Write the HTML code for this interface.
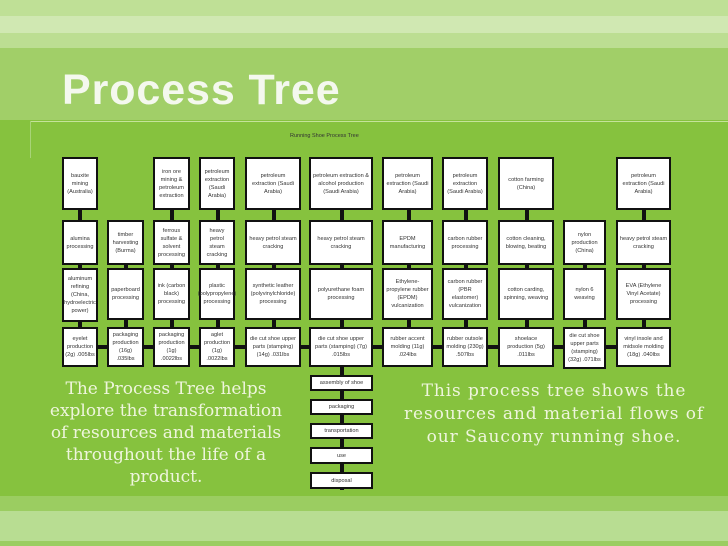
<!DOCTYPE html>
<html><head><meta charset="utf-8"><style>
*{margin:0;padding:0;box-sizing:border-box}
body{width:728px;height:546px;overflow:hidden;position:relative;background:#86c23e;font-family:"Liberation Sans",sans-serif}
.s{position:absolute;left:0;width:728px}
.b{position:absolute;background:#fff;border:2px solid #111;display:flex;align-items:center;justify-content:center;text-align:center;font-size:5.6px;line-height:8px;color:#333;padding:1px}
.v{position:absolute;width:4px;background:#111}
.h{position:absolute;height:4px;background:#111}
.t{position:absolute;font-family:"DejaVu Serif",serif;color:#eef5dc;font-size:17px;line-height:22px;text-align:center;white-space:nowrap}
</style></head><body>
<div class="s" style="top:0;height:16px;background:#bfe096"></div>
<div class="s" style="top:16px;height:17px;background:#d0e8b2"></div>
<div class="s" style="top:33px;height:15px;background:#bcde92"></div>
<div class="s" style="top:48px;height:72px;background:#a1cf68"></div>
<div style="position:absolute;left:62px;top:66px;font-size:43px;font-weight:bold;color:#f4f8ee;letter-spacing:0.9px">Process Tree</div>
<div style="position:absolute;left:30px;top:121px;width:698px;height:1px;background:#c5e39a"></div>
<div style="position:absolute;left:30px;top:121px;width:1px;height:37px;background:#a8d477"></div>
<div style="position:absolute;left:290px;top:133px;font-size:5.5px;color:#333">Running Shoe Process Tree</div>
<div class="s" style="top:496px;height:15px;background:#9bcd61"></div>
<div class="s" style="top:511px;height:30px;background:#b8dd92"></div>
<div class="s" style="top:541px;height:5px;background:#9bcd61"></div>

<div class="h" style="left:78px;top:345px;width:560px"></div>
<div class="v" style="left:78px;top:205px;height:125px"></div>
<div class="v" style="left:124px;top:260px;height:70px"></div>
<div class="v" style="left:170px;top:205px;height:125px"></div>
<div class="v" style="left:216px;top:205px;height:125px"></div>
<div class="v" style="left:272px;top:205px;height:125px"></div>
<div class="v" style="left:340px;top:205px;height:285px"></div>
<div class="v" style="left:407px;top:205px;height:125px"></div>
<div class="v" style="left:464px;top:205px;height:125px"></div>
<div class="v" style="left:525px;top:205px;height:125px"></div>
<div class="v" style="left:583px;top:260px;height:70px"></div>
<div class="v" style="left:642px;top:205px;height:125px"></div>

<div class="b" style="left:62px;top:157px;width:36px;height:53px">bauxite mining (Australia)</div>
<div class="b" style="left:153px;top:157px;width:37px;height:53px">iron ore mining &amp; petroleum extraction</div>
<div class="b" style="left:199px;top:157px;width:36px;height:53px">petroleum extraction (Saudi Arabia)</div>
<div class="b" style="left:245px;top:157px;width:56px;height:53px">petroleum extraction (Saudi Arabia)</div>
<div class="b" style="left:309px;top:157px;width:64px;height:53px">petroleum extraction &amp; alcohol production (Saudi Arabia)</div>
<div class="b" style="left:382px;top:157px;width:51px;height:53px">petroleum extraction (Saudi Arabia)</div>
<div class="b" style="left:442px;top:157px;width:46px;height:53px">petroleum extraction (Saudi Arabia)</div>
<div class="b" style="left:498px;top:157px;width:56px;height:53px">cotton farming (China)</div>
<div class="b" style="left:616px;top:157px;width:55px;height:53px">petroleum extraction (Saudi Arabia)</div>
<div class="b" style="left:62px;top:220px;width:36px;height:45px">alumina processing</div>
<div class="b" style="left:107px;top:220px;width:37px;height:45px">timber harvesting (Burma)</div>
<div class="b" style="left:153px;top:220px;width:37px;height:45px">ferrous sulfate &amp; solvent processing</div>
<div class="b" style="left:199px;top:220px;width:36px;height:45px">heavy petrol steam cracking</div>
<div class="b" style="left:245px;top:220px;width:56px;height:45px">heavy petrol steam cracking</div>
<div class="b" style="left:309px;top:220px;width:64px;height:45px">heavy petrol steam cracking</div>
<div class="b" style="left:382px;top:220px;width:51px;height:45px">EPDM manufacturing</div>
<div class="b" style="left:442px;top:220px;width:46px;height:45px">carbon rubber processing</div>
<div class="b" style="left:498px;top:220px;width:56px;height:45px">cotton cleaning, blowing, beating</div>
<div class="b" style="left:563px;top:220px;width:43px;height:45px">nylon production (China)</div>
<div class="b" style="left:616px;top:220px;width:55px;height:45px">heavy petrol steam cracking</div>
<div class="b" style="left:62px;top:268px;width:36px;height:54px">aluminum refining (China, hydroelectric power)</div>
<div class="b" style="left:107px;top:268px;width:37px;height:52px">paperboard processing</div>
<div class="b" style="left:153px;top:268px;width:37px;height:52px">ink (carbon black) processing</div>
<div class="b" style="left:199px;top:268px;width:36px;height:52px">plastic (polypropylene) processing</div>
<div class="b" style="left:245px;top:268px;width:56px;height:52px">synthetic leather (polyvinylchloride) processing</div>
<div class="b" style="left:309px;top:268px;width:64px;height:52px">polyurethane foam processing</div>
<div class="b" style="left:382px;top:268px;width:51px;height:52px">Ethylene-propylene rubber (EPDM) vulcanization</div>
<div class="b" style="left:442px;top:268px;width:46px;height:52px">carbon rubber (PBR elastomer) vulcanization</div>
<div class="b" style="left:498px;top:268px;width:56px;height:52px">cotton carding, spinning, weaving</div>
<div class="b" style="left:563px;top:268px;width:43px;height:52px">nylon 6 weaving</div>
<div class="b" style="left:616px;top:268px;width:55px;height:52px">EVA (Ethylene Vinyl Acetate) processing</div>
<div class="b" style="left:62px;top:327px;width:36px;height:40px">eyelet production (2g) .005lbs</div>
<div class="b" style="left:107px;top:327px;width:37px;height:40px">packaging production (16g) .035lbs</div>
<div class="b" style="left:153px;top:327px;width:37px;height:40px">packaging production (1g) .0022lbs</div>
<div class="b" style="left:199px;top:327px;width:36px;height:40px">aglet production (1g) .0022lbs</div>
<div class="b" style="left:245px;top:327px;width:56px;height:40px">die cut shoe upper parts (stamping) (14g) .031lbs</div>
<div class="b" style="left:309px;top:327px;width:64px;height:40px">die cut shoe upper parts (stamping) (7g) .015lbs</div>
<div class="b" style="left:382px;top:327px;width:51px;height:40px">rubber accent molding (11g) .024lbs</div>
<div class="b" style="left:442px;top:327px;width:46px;height:40px">rubber outsole molding (230g) .507lbs</div>
<div class="b" style="left:498px;top:327px;width:56px;height:40px">shoelace production (5g) .011lbs</div>
<div class="b" style="left:563px;top:327px;width:43px;height:42px">die cut shoe upper parts (stamping) (32g) .071lbs</div>
<div class="b" style="left:616px;top:327px;width:55px;height:40px">vinyl insole and midsole molding (18g) .040lbs</div>
<div class="b" style="left:310px;top:375px;width:63px;height:16px">assembly of shoe</div>
<div class="b" style="left:310px;top:399px;width:63px;height:16px">packaging</div>
<div class="b" style="left:310px;top:423px;width:63px;height:16px">transportation</div>
<div class="b" style="left:310px;top:447px;width:63px;height:17px">use</div>
<div class="b" style="left:310px;top:472px;width:63px;height:17px">disposal</div>

<div class="t" style="left:36px;top:378px;width:260px">The Process Tree helps<br>explore the transformation<br>of resources and materials<br>throughout the life of a<br>product.</div>
<div class="t" style="left:390px;top:380px;width:328px;letter-spacing:0.9px;line-height:23px">This process tree shows the<br>resources and material flows of<br>our Saucony running shoe.</div>
</body></html>
